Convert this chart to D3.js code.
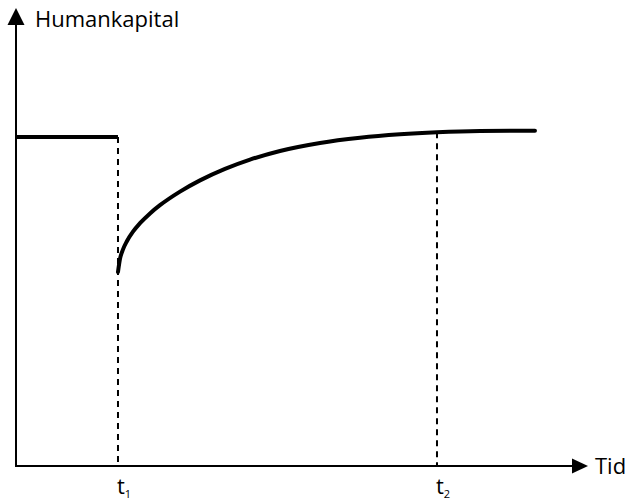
<!DOCTYPE html>
<html>
<head>
<meta charset="utf-8">
<script src="https://cdn.jsdelivr.net/npm/d3@7"></script>
<style>
  body { margin: 0; background: #fff; }
  text { font-family: "Open Sans", "Noto Sans", sans-serif; fill: #000; }
</style>
</head>
<body>
<svg id="chart" width="629" height="502"></svg>
<script>
// time units (0..100) and human capital level (pre-shock level = 100)
var preLevel = [[0, 100], [17.83, 100]];
var recoveryT = [17.83, 18.18, 18.71, 19.41, 20.45, 21.68, 23.43, 25.17, 28.67, 32.17, 36.54, 40.91, 46.15, 53.15, 60.14, 67.13, 73.6, 81.12, 90.73];
var recoveryH = [58.97, 62.92, 65.84, 68.39, 71.22, 73.8, 76.78, 79.27, 83.4, 86.81, 90.3, 93.12, 95.76, 98.19, 99.77, 100.81, 101.43, 101.82, 101.92];
var markTimes = [17.83, 73.6];
var markLabels = ["1", "2"];
var axisLabels = { y: "Humankapital", x: "Tid" };

var svg = d3.select("#chart");
var xScale = d3.scaleLinear().domain([0, 100]).range([16, 588]);
var yScale = d3.scaleLinear().domain([0, 100]).range([466, 137]);
var yTop = yScale.invert(8);

var recovery = recoveryT.map(function (t, i) {
  return [t, recoveryH[i]];
});
var topAt = function (t, i) {
  // t1 guide starts at the old level, t2 guide at the curve
  return i === 0 ? 100 : recoveryH[recoveryT.indexOf(t)];
};

// dashed guides
svg.selectAll(".guide")
  .data(markTimes)
  .enter()
  .append("line")
  .attr("class", "guide")
  .attr("x1", function (d) { return xScale(d); })
  .attr("x2", function (d) { return xScale(d); })
  .attr("y1", function (d, i) { return yScale(topAt(d, i)); })
  .attr("y2", yScale(0))
  .attr("stroke", "#000")
  .attr("stroke-width", 2)
  .attr("stroke-dasharray", "6,5");

// axes
svg.append("line")
  .attr("x1", xScale(0)).attr("x2", xScale(0))
  .attr("y1", yScale(0)).attr("y2", yScale(yTop) + 10)
  .attr("stroke", "#000").attr("stroke-width", 2);
svg.append("line")
  .attr("x1", xScale(0) - 1).attr("x2", xScale(100) - 10)
  .attr("y1", yScale(0)).attr("y2", yScale(0))
  .attr("stroke", "#000").attr("stroke-width", 2);

var ax = xScale(0), ay = yScale(yTop);
svg.append("path")
  .attr("d", "M" + ax + "," + ay + "L" + (ax + 8.5) + "," + (ay + 17) + "L" + (ax - 8.5) + "," + (ay + 17) + "Z")
  .attr("fill", "#000");
var bx = xScale(100), by = yScale(0);
svg.append("path")
  .attr("d", "M" + bx + "," + by + "L" + (bx - 16) + "," + (by - 7.5) + "L" + (bx - 16) + "," + (by + 7.5) + "Z")
  .attr("fill", "#000");

var line = d3.line()
  .x(function (d) { return xScale(d[0]); })
  .y(function (d) { return yScale(d[1]); });

svg.append("path")
  .datum(preLevel)
  .attr("d", line)
  .attr("fill", "none")
  .attr("stroke", "#000")
  .attr("stroke-width", 4);

svg.append("path")
  .datum(recovery)
  .attr("d", line.curve(d3.curveMonotoneX))
  .attr("fill", "none")
  .attr("stroke", "#000")
  .attr("stroke-width", 4)
  .attr("stroke-linecap", "round");

// labels
svg.append("text")
  .attr("x", ax + 19).attr("y", 27)
  .attr("font-size", 22)
  .text(axisLabels.y);
svg.append("text")
  .attr("x", bx + 7).attr("y", by + 8)
  .attr("font-size", 22)
  .text(axisLabels.x);

var tl = svg.selectAll(".tlab")
  .data(markTimes)
  .enter()
  .append("text")
  .attr("class", "tlab")
  .attr("x", function (d) { return xScale(d) - 1; })
  .attr("y", 494)
  .attr("font-size", 22);
tl.append("tspan").text("t");
tl.append("tspan")
  .attr("font-size", 11)
  .attr("dy", 4)
  .text(function (d, i) { return markLabels[i]; });
</script>
</body>
</html>
